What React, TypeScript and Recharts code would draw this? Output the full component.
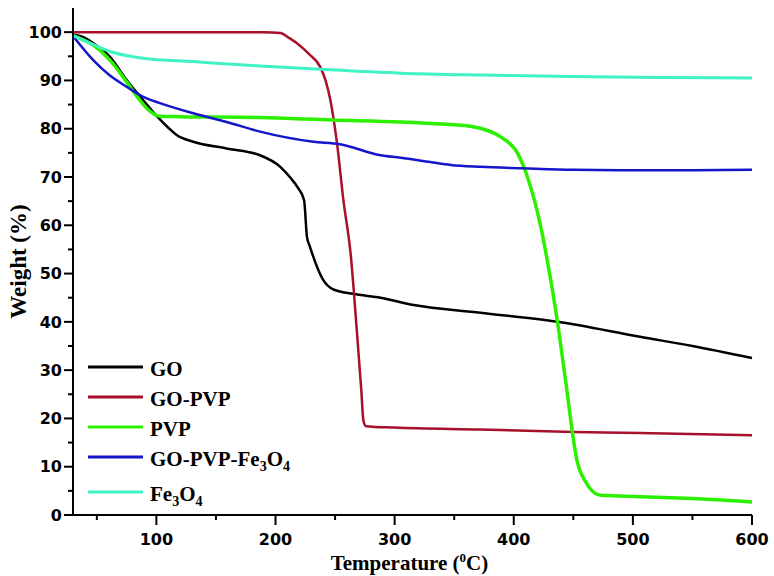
import React from "react";
import { LineChart, Line, XAxis, YAxis } from "recharts";

// temperature (°C) / weight (%)
const goTemp = [30, 40, 47, 61, 75, 89, 100, 110, 117, 131, 159, 187, 204, 212, 219, 224, 226.4, 229, 240, 248, 265, 288, 316, 372, 437, 506, 550, 600];
const goWeight = [99.5, 98.8, 97.7, 94.9, 90.1, 85.9, 82.7, 80.2, 78.7, 77.3, 75.9, 74.5, 72.1, 70, 67.7, 65.2, 57.6, 55.5, 48.7, 46.8, 45.8, 45, 43.5, 41.9, 40, 36.9, 35, 32.5];

const goPvpTemp = [30, 100, 190, 204, 212, 218, 228, 237.5, 242, 246, 251.6, 257, 263.3, 267.8, 272, 273.8, 276, 300, 372, 450, 506, 600];
const goPvpWeight = [100, 100, 100, 99.8, 98.7, 97.7, 95.5, 92.8, 90, 86, 77, 65.2, 53.5, 39.7, 25.9, 19.5, 18.4, 18.1, 17.7, 17.2, 17, 16.5];

const pvpTemp = [30, 47, 61, 75, 84, 92, 103, 120, 187, 248, 305, 344, 361, 372, 389, 403, 411.5, 422.4, 431, 436.7, 443.4, 453.5, 460, 465, 473, 506, 550, 600];
const pvpWeight = [99.3, 97.3, 94.2, 89.7, 86.6, 84.2, 82.6, 82.5, 82.3, 81.8, 81.4, 80.9, 80.6, 80.1, 78.3, 75, 70, 60, 48.7, 40, 28, 10.8, 7, 5.2, 4.1, 3.8, 3.4, 2.7];

const fePvpTemp = [30, 47, 61, 75, 89, 103, 131, 159, 187, 232, 254, 288, 305, 330, 347, 372, 408, 450, 500, 550, 600];
const fePvpWeight = [99.2, 94.2, 91, 88.7, 86.6, 85.3, 83.2, 81.4, 79.4, 77.3, 76.8, 74.5, 74, 73.1, 72.5, 72.1, 71.8, 71.5, 71.4, 71.4, 71.5];

const feTemp = [30, 40, 61, 89, 131, 187, 237.5, 305, 372, 450, 525, 600];
const feWeight = [99.3, 98.2, 96, 94.6, 93.9, 93, 92.3, 91.5, 91.1, 90.8, 90.6, 90.5];

const xMajorTicks = [100, 200, 300, 400, 500, 600];
const xMinorTicks = [50, 150, 250, 350, 450, 550];
const yMajorTicks = [0, 10, 20, 30, 40, 50, 60, 70, 80, 90, 100];
const yMinorTicks = [5, 15, 25, 35, 45, 55, 65, 75, 85, 95];

const toPoints = (t: number[], w: number[]) => t.map((x, i) => ({ x, y: w[i] }));

const series = [
  { key: "GO", color: "#000000", width: 2.5, data: toPoints(goTemp, goWeight) },
  { key: "GO-PVP", color: "#a8102c", width: 2.5, data: toPoints(goPvpTemp, goPvpWeight) },
  { key: "PVP", color: "#2cf000", width: 3.5, data: toPoints(pvpTemp, pvpWeight) },
  { key: "GO-PVP-Fe3O4", color: "#1515cc", width: 2.5, data: toPoints(fePvpTemp, fePvpWeight) },
  { key: "Fe3O4", color: "#40f2c4", width: 3, data: toPoints(feTemp, feWeight) },
];

const numFont = "'DejaVu Sans', sans-serif";
const serif = "'Liberation Serif', 'Times New Roman', serif";

const XTick = ({ x, y, payload }: any) => {
  const major = xMajorTicks.includes(payload.value);
  return (
    <g>
      <line x1={x} x2={x} y1={y} y2={y + (major ? 10 : 5)} stroke="#000" strokeWidth={2} />
      {major && (
        <text x={x} y={y + 30} textAnchor="middle" fontFamily={numFont} fontWeight="bold" fontSize={16} fill="#000">
          {payload.value}
        </text>
      )}
    </g>
  );
};

const YTick = ({ x, y, payload }: any) => {
  const major = yMajorTicks.includes(payload.value);
  return (
    <g>
      <line x1={x - (major ? 9 : 5)} x2={x} y1={y} y2={y} stroke="#000" strokeWidth={2} />
      {major && (
        <text x={x - 11} y={y} dy="0.36em" textAnchor="end" fontFamily={numFont} fontWeight="bold" fontSize={16} fill="#000">
          {payload.value}
        </text>
      )}
    </g>
  );
};

const XTitle = ({ viewBox }: any) => {
  const cx = viewBox.x + viewBox.width / 2 - 3;
  return (
    <text x={cx} y={viewBox.y + 55} textAnchor="middle" fontFamily={serif} fontWeight="bold" fontSize={21} fill="#000">
      Temperature (<tspan dy={-8} fontSize={13}>0</tspan>
      <tspan dy={8}>C)</tspan>
    </text>
  );
};

const YTitle = ({ viewBox }: any) => {
  const cy = viewBox.y + viewBox.height / 2;
  return (
    <text
      transform={`translate(26,${cy}) rotate(-90)`}
      textAnchor="middle"
      fontFamily={serif}
      fontWeight="bold"
      fontSize={23}
      fill="#000"
    >
      Weight (%)
    </text>
  );
};

const legendRows = [367, 397, 427, 457, 492];

const LegendLabel = ({ name }: { name: string }) => {
  if (name === "GO-PVP-Fe3O4")
    return (
      <>
        GO-PVP-Fe<tspan dy={5} fontSize={14}>3</tspan>
        <tspan dy={-5}>O</tspan>
        <tspan dy={5} fontSize={14}>4</tspan>
      </>
    );
  if (name === "Fe3O4")
    return (
      <>
        Fe<tspan dy={5} fontSize={14}>3</tspan>
        <tspan dy={-5}>O</tspan>
        <tspan dy={5} fontSize={14}>4</tspan>
      </>
    );
  return <>{name}</>;
};

const ChartLegend = () => (
  <svg width={774} height={576} style={{ position: "absolute", left: 0, top: 0, pointerEvents: "none" }}>
    {series.map((s, i) => (
      <g key={s.key}>
        <line x1={88} x2={143} y1={legendRows[i]} y2={legendRows[i]} stroke={s.color} strokeWidth={3} />
        <text x={150} y={legendRows[i] + 9} fontFamily={serif} fontWeight="bold" fontSize={21} fill="#000">
          <LegendLabel name={s.key} />
        </text>
      </g>
    ))}
  </svg>
);

export default function App() {
  return (
    <div style={{ position: "absolute", left: 0, top: 0, width: 774, height: 576, background: "#fff" }}>
      <LineChart width={774} height={576} margin={{ top: 8, right: 22, left: 0, bottom: 0 }}>
        <XAxis
          dataKey="x"
          type="number"
          domain={[30, 600]}
          ticks={[...xMinorTicks, ...xMajorTicks].sort((a, b) => a - b)}
          interval={0}
          tick={<XTick />}
          tickLine={false}
          tickSize={0}
          tickMargin={0}
          height={61}
          axisLine={{ stroke: "#000", strokeWidth: 2 }}
          label={<XTitle />}
        />
        <XAxis
          xAxisId="top"
          orientation="top"
          type="number"
          domain={[30, 600]}
          tick={false}
          tickLine={false}
          height={0}
          axisLine={{ stroke: "#000", strokeWidth: 2 }}
        />
        <YAxis
          type="number"
          domain={[0, 105]}
          ticks={[...yMinorTicks, ...yMajorTicks].sort((a, b) => a - b)}
          interval={0}
          tick={<YTick />}
          tickLine={false}
          tickSize={0}
          tickMargin={0}
          width={73}
          axisLine={{ stroke: "#000", strokeWidth: 2 }}
          label={<YTitle />}
        />
        <YAxis
          yAxisId="right"
          orientation="right"
          type="number"
          domain={[0, 105]}
          tick={false}
          tickLine={false}
          width={0}
          axisLine={{ stroke: "#000", strokeWidth: 2 }}
        />
        {series.map((s) => (
          <Line
            key={s.key}
            data={s.data}
            dataKey="y"
            name={s.key}
            type="monotone"
            stroke={s.color}
            strokeWidth={s.width}
            dot={false}
            activeDot={false}
            isAnimationActive={false}
          />
        ))}
      </LineChart>
      <ChartLegend />
    </div>
  );
}
